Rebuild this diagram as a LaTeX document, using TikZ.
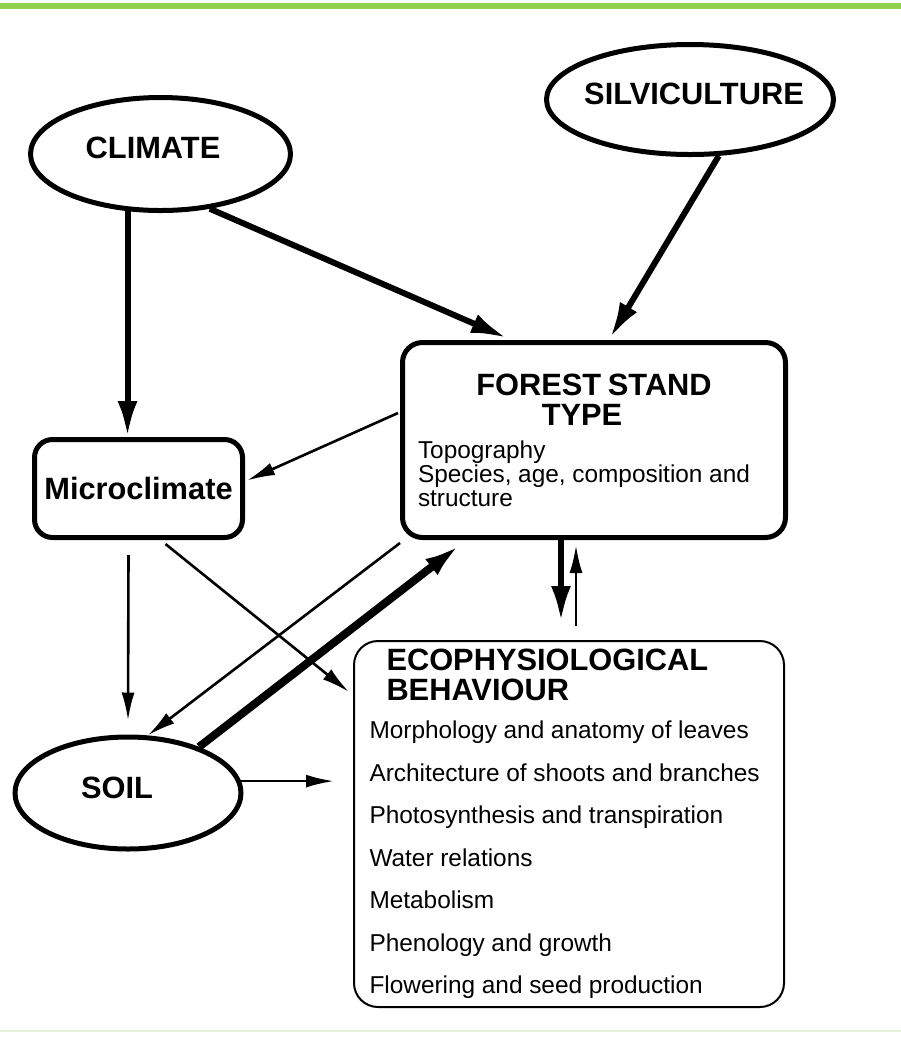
\documentclass[tikz,border=0pt]{standalone}
\usepackage{fontspec}
\setmainfont{Liberation Sans}
\usetikzlibrary{arrows.meta}
\usetikzlibrary{calc}
\usetikzlibrary{shapes.geometric}

\definecolor{bandgreen}{HTML}{92D050}
\definecolor{palegreen}{HTML}{E4F2D6}

\newcommand{\headfont}{\fontsize{15.4}{15}\selectfont\bfseries}
\newcommand{\itemfont}{\fontsize{12.2}{12}\selectfont}

\tikzset{
  ellnode/.style={draw, ellipse, line width=2.5pt, inner sep=0pt},
  headlabel/.style={font=\headfont, inner sep=0pt},
  boxnode/.style={draw, rectangle, rounded corners=9pt, line width=2.5pt, inner sep=0pt},
  thinarrow/.style={line width=1.3pt, -{Latex[length=14pt,width=6.5pt]}},
  thickarrow/.style={line width=3pt, -{Latex[length=18pt,width=10pt]}},
}

\begin{document}
\begin{tikzpicture}[x=0.5pt, y=-0.5pt]
  \useasboundingbox (0,0) rectangle (901,1041);
  \fill[white] (0,0) rectangle (901,1041);
  \fill[bandgreen] (0,3) rectangle (901,9);
  \fill[palegreen] (0,1030) rectangle (901,1032);

  \node[ellnode, minimum width=130pt, minimum height=56.5pt,
        label={[headlabel, xshift=-3.75pt, yshift=3pt]center:CLIMATE}] (climate) at (160.5,154) {};
  \node[ellnode, minimum width=143.5pt, minimum height=55pt,
        label={[headlabel, xshift=2pt, yshift=2.75pt]center:SILVICULTURE}] (silvi) at (690,99.5) {};
  \node[ellnode, minimum width=113pt, minimum height=56pt,
        label={[headlabel, xshift=-5.5pt, yshift=2.5pt]center:SOIL}] (soil) at (128,793) {};
  \node[boxnode, minimum width=104pt, minimum height=49pt, font=\headfont] (micro) at (138.5,488.5) {Microclimate};
  \node[boxnode, rounded corners=10pt, minimum width=191.5pt, minimum height=97.5pt,
        text width=176pt, align=left] (fst) at (594,440)
    {{\centering\headfont FOREST STAND\hspace*{12pt}\\TYPE\hspace*{12pt}\par}
     \vspace{4.5pt}
     {\itemfont Topography\\Species, age, composition and\\structure\par}};
  \node[boxnode, line width=1pt, rounded corners=12pt, minimum width=215pt, minimum height=183pt,
        text width=199.5pt, align=left] (eco) at (569,824)
    {{\headfont\hspace*{8.5pt}ECOPHYSIOLOGICAL\\\hspace*{8.5pt}BEHAVIOUR\par}
     \vspace{-2.25pt}
     {\fontsize{12.2}{21.25}\selectfont
      Morphology and anatomy of leaves\\
      Architecture of shoots and branches\\
      Photosynthesis and transpiration\\
      Water relations\\
      Metabolism\\
      Phenology and growth\\
      Flowering and seed production\par}};

  % influences on the stand
  \draw[thickarrow] (climate.-48) -- ($(fst.north)+(-87,-2)$);
  \draw[thickarrow] (silvi.-63) -- ($(fst.north)+(16,-2)$);
  \draw[thickarrow] (climate.-120) -- (climate.-120 |- micro.north);
  \draw[thinarrow] ($(fst.west)+(-2,-27)$) -- ($(micro.east)+(2,-8)$);

  % microclimate and soil
  \draw[thinarrow] ($(micro.south)+(-10,15)$) -- ($(soil.north)+(0,-14)$);
  \draw[thinarrow] ($(micro.south)+(27,4)$) -- ($(eco.north west)+(-4,52)$);
  \draw[thinarrow] ($(fst.south west)+(0,3)$) -- (soil.71);
  \draw[thickarrow, line width=4pt] (soil.33) -- ($(fst.south)+(-134,5)$);
  \draw[thinarrow] (soil.6) -- ($(soil.6 -| eco.west)+(-19,0)$);

  % stand and behaviour
  \draw[thickarrow] ($(fst.south)+(-33,0)$) -- ($(eco.north)+(-8,-18)$);
  \draw[thinarrow] ($(eco.north)+(7,-14)$) -- ($(fst.south)+(-18,5)$);
\end{tikzpicture}
\end{document}
